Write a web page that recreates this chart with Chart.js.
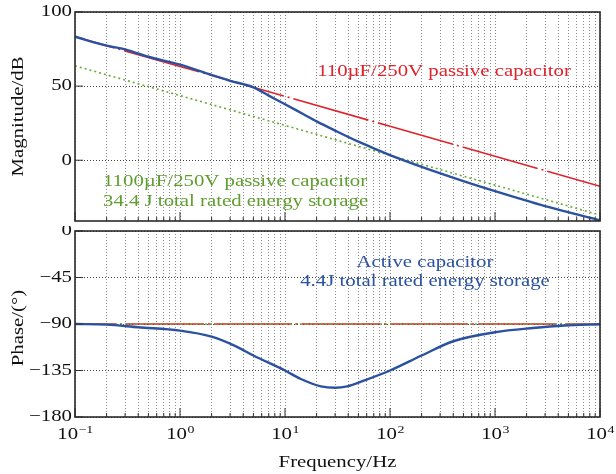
<!DOCTYPE html>
<html>
<head>
<meta charset="utf-8">
<script src="https://cdn.jsdelivr.net/npm/chart.js@4.4.0/dist/chart.umd.min.js"></script>
<style>
    body { margin: 0; background: #fff; width: 616px; height: 474px; overflow: hidden; position: relative; }
    canvas { position: absolute; left: 0; }
    #mag { top: 0; }
    #phase { top: 226px; }
</style>
</head>
<body>
<canvas id="mag" width="616" height="226"></canvas>
<canvas id="phase" width="616" height="248"></canvas>
<script>
// Frequency axis (Hz)
const F_MIN = 0.1;
const F_MAX = 10000;
const decades = [-1, 0, 1, 2, 3];

// Magnitude (dB)
const passiveFreq = [0.1, 1, 10, 100, 1000, 10000];
const mag110uF = [83.3, 63.3, 43.1, 22.9, 2.7, -17.6];
const mag1100uF = [63.7, 43.6, 23.5, 3.3, -16.8, -37.0];
const activeMagFreq = [0.1, 0.2, 0.3, 0.5, 1, 2, 3, 5, 7, 10, 15, 20, 30, 50, 80, 100, 200, 500, 1000, 3000, 10000];
const activeMag = [83.3, 77.3, 74.8, 69.8, 64.5, 57.5, 53.6, 49.2, 43.6, 37.8, 31.0, 26.2, 20.0, 12.5, 6.3, 3.4, -4.5, -14.1, -20.9, -31.0, -40.5];

// Phase (deg)
const passivePhase = [-90, -90, -90, -90, -90, -90];
const activePhaseFreq = [0.1, 0.2, 0.4, 1, 2, 3.3, 5, 10, 14, 22, 30, 39, 57, 100, 200, 400, 1000, 2300, 4600, 10000];
const activePhase = [-90, -90.6, -93.2, -96.4, -102.2, -110.9, -120.5, -135, -143, -150.4, -151.7, -150.4, -144.6, -135, -120.5, -106.7, -98, -93.9, -91.5, -90.3];

// Tick labels
const magTicks = [0, 50, 100];
const phaseTicks = [0, -45, -90, -135, -180];

const RED = "#e0222b";
const GREEN = "#6aaa38";
const BLUE = "#2b52a0";
const FONT = '"Liberation Serif", "Times New Roman", serif';
const WIDE = 1.26; // the figure's serif face is set wide

const gridFreqs = [];
decades.forEach((e) => {
    for (let m = 1; m <= 9; m++) gridFreqs.push(m * Math.pow(10, e));
});
gridFreqs.push(F_MAX);

const pts = (xs, ys) => xs.map((x, i) => ({ x: x, y: ys[i] }));
const minus = (v) => String(v).replace("-", "\u2212");

// Draw wide serif text (optionally rotated)
function wideText(ctx, str, x, y, size, color, align, rotate) {
    ctx.save();
    ctx.translate(x, y);
    if (rotate) ctx.rotate(-Math.PI / 2);
    ctx.scale(WIDE, 1);
    ctx.font = size + "px " + FONT;
    ctx.fillStyle = color;
    ctx.textAlign = align || "center";
    ctx.textBaseline = "middle";
    ctx.fillText(str, 0, 0);
    ctx.restore();
}

function panelPlugin(cfg) {
    return {
        id: "panel",
        afterDraw: (chart) => {
            const ctx = chart.ctx;
            const a = chart.chartArea;
            const x = chart.scales.x;
            const y = chart.scales.y;
            ctx.save();
            ctx.strokeStyle = "#333";
            ctx.lineWidth = 1;
            // inward ticks on the frequency axis
            gridFreqs.forEach((f) => {
                const px = x.getPixelForValue(f);
                const lg = Math.log10(f);
                const len = Math.abs(lg - Math.round(lg)) < 1e-9 ? 9 : 4;
                ctx.beginPath();
                ctx.moveTo(px, a.bottom);
                ctx.lineTo(px, a.bottom - len);
                ctx.stroke();
            });
            // inward ticks + labels on the level axis
            cfg.yTicks.forEach((v) => {
                const py = y.getPixelForValue(v);
                ctx.beginPath();
                ctx.moveTo(a.left, py);
                ctx.lineTo(a.left + 8, py);
                ctx.stroke();
                wideText(ctx, minus(v), a.left - 3, py, 16.5, "#111", "right");
            });
            // frame
            ctx.lineWidth = 1.6;
            ctx.strokeStyle = "#2a2a2a";
            ctx.strokeRect(a.left, a.top, a.right - a.left, a.bottom - a.top);
            ctx.restore();

            wideText(ctx, cfg.yTitle, 19, (a.top + a.bottom) / 2 + cfg.titleShift, 16.5, "#111", "center", true);

            cfg.notes.forEach((n) => {
                wideText(ctx, n.text, n.x, n.y, 16.5, n.color, n.align);
            });

            if (cfg.xLabels) {
                decades.concat([4]).forEach((e) => {
                    const px = x.getPixelForValue(Math.pow(10, e));
                    const base = "10";
                    const sup = minus(e);
                    ctx.save();
                    ctx.font = "16.5px " + FONT;
                    const w1 = ctx.measureText(base).width * WIDE;
                    ctx.font = "11px " + FONT;
                    const w2 = ctx.measureText(sup).width * WIDE;
                    ctx.restore();
                    const left = px - (w1 + w2) / 2;
                    wideText(ctx, base, left, a.bottom + 18, 16.5, "#111", "left");
                    wideText(ctx, sup, left + w1 + 0.5, a.bottom + 13, 11, "#111", "left");
                });
                wideText(ctx, "Frequency/Hz", (a.left + a.right) / 2, a.bottom + 46, 16.5, "#111", "center");
            }
        }
    };
}

function freqScale(height) {
    return {
        type: "logarithmic",
        min: F_MIN,
        max: F_MAX,
        afterBuildTicks: (s) => { s.ticks = gridFreqs.map((v) => ({ value: v })); },
        afterFit: (s) => { s.height = height; },
        ticks: { display: false },
        grid: { color: "#8c8c8c", lineWidth: 1, drawTicks: false },
        border: { display: false, dash: [1, 2] }
    };
}

function levelScale(min, max, ticks) {
    return {
        min: min,
        max: max,
        afterBuildTicks: (s) => { s.ticks = ticks.map((v) => ({ value: v })); },
        afterFit: (s) => { s.width = 75; },
        ticks: { display: false },
        grid: { color: "#444", lineWidth: 1, drawTicks: false },
        border: { display: false, dash: [1, 2] }
    };
}

const baseOptions = (padTop, xHeight, yMin, yMax, yTicks) => ({
    responsive: false,
    animation: false,
    events: [],
    layout: { padding: { top: padTop, right: 16, bottom: 0, left: 0 } },
    plugins: { legend: { display: false }, tooltip: { enabled: false } },
    elements: { point: { radius: 0 } },
    scales: { x: freqScale(xHeight), y: levelScale(yMin, yMax, yTicks) }
});

// Magnitude panel
new Chart(document.getElementById("mag"), {
    type: "line",
    data: {
        datasets: [
            { label: "Active capacitor", data: pts(activeMagFreq, activeMag), borderColor: BLUE, borderWidth: 2.4, cubicInterpolationMode: "monotone" },
            { label: "110uF/250V", data: pts(passiveFreq, mag110uF), borderColor: RED, borderWidth: 1.6, borderDash: [78, 4, 2, 4], borderDashOffset: 37 },
            { label: "1100uF/250V", data: pts(passiveFreq, mag1100uF), borderColor: GREEN, borderWidth: 1.6, borderDash: [2, 3] }
        ]
    },
    options: baseOptions(12, 5, -41, 100, magTicks),
    plugins: [panelPlugin({
        yTicks: magTicks,
        yTitle: "Magnitude/dB",
        titleShift: 0,
        xLabels: false,
        notes: [
            { text: "110\u00b5F/250V passive capacitor", x: 444, y: 72, color: RED, align: "center" },
            { text: "1100\u00b5F/250V passive capacitor", x: 103, y: 182, color: "#5f9e2e", align: "left" },
            { text: "34.4 J total rated energy storage", x: 103, y: 202, color: "#5f9e2e", align: "left" }
        ]
    })]
});

// Phase panel
new Chart(document.getElementById("phase"), {
    type: "line",
    data: {
        datasets: [
            { label: "Active capacitor", data: pts(activePhaseFreq, activePhase), borderColor: BLUE, borderWidth: 2.4, cubicInterpolationMode: "monotone" },
            { label: "1100uF/250V", data: pts(passiveFreq, passivePhase), borderColor: GREEN, borderWidth: 1.6, borderDash: [2, 3] },
            { label: "110uF/250V", data: pts(passiveFreq, passivePhase), borderColor: RED, borderWidth: 1.6, borderDash: [78, 4, 2, 4], borderDashOffset: 37 }
        ]
    },
    options: baseOptions(5, 57, -180, 0, phaseTicks),
    plugins: [panelPlugin({
        yTicks: phaseTicks,
        yTitle: "Phase/(\u00b0)",
        titleShift: 4,
        xLabels: true,
        notes: [
            { text: "Active capacitor", x: 425, y: 37, color: BLUE, align: "center" },
            { text: "4.4J total rated energy storage", x: 425, y: 56, color: BLUE, align: "center" }
        ]
    })]
});
</script>
</body>
</html>
